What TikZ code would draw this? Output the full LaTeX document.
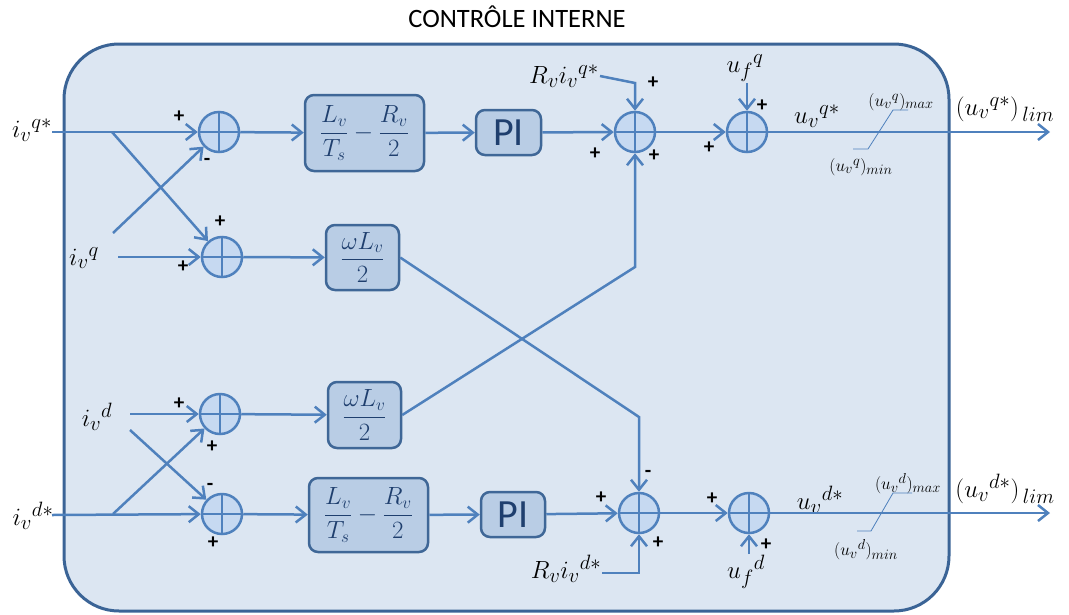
\documentclass[tikz,border=0pt]{standalone}
\usepackage{fontspec}
\setmainfont{Carlito}
\usetikzlibrary{arrows.meta}

\definecolor{panelfill}{HTML}{DCE6F2}
\definecolor{paneldraw}{HTML}{3B6496}
\definecolor{flow}{HTML}{4F81BD}
\definecolor{blockfill}{HTML}{B9CDE5}
\definecolor{blockdraw}{HTML}{3F6797}
\definecolor{blocktext}{HTML}{1F3F6E}
\definecolor{sumfill}{HTML}{C6D9F1}

\begin{document}
\begin{tikzpicture}[x=1pt,y=-1pt,
  panelbox/.style={draw=paneldraw, fill=panelfill, line width=3pt, rounded corners=55pt, inner sep=0},
  flowline/.style={draw=flow, line width=2.5pt, -{Straight Barb[length=10pt,width=16pt]}},
  limline/.style={draw=flow, line width=0.8pt},
  blockbox/.style={draw=blockdraw, fill=blockfill, line width=2.5pt, rounded corners=9pt,
    text=blocktext, inner sep=0, font=\fontsize{23}{27}\selectfont},
  gainbox/.style={blockbox, font=\fontsize{25}{29}\selectfont},
  pibox/.style={blockbox, font=\fontsize{40}{44}\selectfont},
  sumnode/.style={circle, draw=flow, fill=sumfill, line width=2.5pt, minimum size=40pt, inner sep=0,
    path picture={\draw[flow, line width=2.5pt]
      (path picture bounding box.north) -- (path picture bounding box.south)
      (path picture bounding box.west) -- (path picture bounding box.east);}},
  sig/.style={inner sep=0, font=\fontsize{21}{22}\selectfont\bfseries},
  lab/.style={inner sep=1pt, font=\fontsize{30}{34}\selectfont},
  limlab/.style={inner sep=0, font=\fontsize{19}{22}\selectfont},
]
\useasboundingbox (0,0) rectangle (1069,614);

% frame and title
\node[panelbox, minimum width=885pt, minimum height=567pt] (panel) at (506.5,327.5) {};
\node[inner sep=0, font=\fontsize{26.5}{30}\selectfont] (title) at (517,17) {CONTRÔLE INTERNE};

% ---- q axis ----
\node[sumnode] (sq1) at (219,132) {};
\node[sumnode] (sq2) at (222,257) {};
\node[blockbox, minimum width=119pt, minimum height=76pt] (bq) at (364.5,133)
  {$\displaystyle\frac{L_v}{T_s}-\frac{R_v}{2}$};
\node[pibox, minimum width=65pt, minimum height=45pt] (piq) at (508.5,132.5) {PI};
\node[gainbox, minimum width=73pt, minimum height=65pt] (wq) at (362.5,257.5)
  {$\displaystyle\frac{\omega L_v}{2}$};
\node[sumnode] (sq3) at (635,132) {};
\node[sumnode] (sq4) at (747,132) {};

% ---- d axis ----
\node[sumnode] (sd1) at (220,414) {};
\node[sumnode] (sd2) at (222,514) {};
\node[gainbox, minimum width=73pt, minimum height=66pt] (wd) at (364.5,415)
  {$\displaystyle\frac{\omega L_v}{2}$};
\node[blockbox, minimum width=119pt, minimum height=74pt] (bd) at (368.5,515)
  {$\displaystyle\frac{L_v}{T_s}-\frac{R_v}{2}$};
\node[pibox, minimum width=64pt, minimum height=45pt] (pid) at (513,514.5) {PI};
\node[sumnode] (sd3) at (639,513) {};
\node[sumnode] (sd4) at (749,513) {};

% ---- signal labels ----
\node[lab] (iqs) at (32,130) {$i_v{}^{q*}$};
\node[lab] (iq)  at (84,258) {$i_v{}^{q}$};
\node[lab] (id)  at (97,417) {$i_v{}^{d}$};
\node[lab] (ids) at (33,516) {$i_v{}^{d*}$};
\node[lab] (rq)  at (564,76) {$R_v i_v{}^{q*}$};
\node[lab] (rd)  at (566,569) {$R_v i_v{}^{d*}$};
\node[lab] (ufq) at (745,68) {$u_f{}^{q}$};
\node[lab] (ufd) at (746,572) {$u_f{}^{d}$};
\node[lab] (uvq) at (817,116) {$u_v{}^{q*}$};
\node[lab] (uvd) at (820,500) {$u_v{}^{d*}$};
\node[lab] (limq) at (1005,109) {$(u_v{}^{q*})_{\,lim}$};
\node[lab] (limd) at (1005,489) {$(u_v{}^{d*})_{\,lim}$};
\node[limlab] (maxq) at (901,102) {$(u_v{}^{q})_{max}$};
\node[limlab] (minq) at (861,167) {$(u_v{}^{q})_{min}$};
\node[limlab] (maxd) at (908,484) {$(u_v{}^{d})_{max}$};
\node[limlab] (mind) at (866,550) {$(u_v{}^{d})_{min}$};

% ---- branch and corner points ----
\coordinate (aq) at (52,132);
\coordinate (bq1) at (112,132);
\coordinate (bq2) at (113,233);
\coordinate (cq) at (118,257);
\coordinate (ad) at (52,515);
\coordinate (bd1) at (113,514);
\coordinate (bd2) at (130,430);
\coordinate (cd) at (130,414);
\coordinate (kq) at (635,83);
\coordinate (kd) at (639,573);
\coordinate (xq) at (635,267);
\coordinate (xd) at (639,417);
\coordinate (oq) at (1050,132);
\coordinate (od) at (1050,513);

% ---- q connectors ----
\draw[flowline] (aq) -- (sq1);
\draw[flowline] (bq1) -- (sq2);
\draw[flowline] (bq2) -- (sq1);
\draw[flowline] (cq) -- (sq2);
\draw[flowline] (sq1) -- (bq);
\draw[flowline] (bq) -- (piq);
\draw[flowline] (piq) -- (sq3);
\draw[flowline] (sq2) -- (wq);
\draw[flowline] (sq3) -- (sq4);
\draw[flowline] (rq.east) -- (kq) -- (sq3);
\draw[flowline] (sq4 |- ufq.south) -- (sq4);
\draw[flowline] (sq4) -- (oq);

% ---- d connectors ----
\draw[flowline] (ad) -- (sd2);
\draw[flowline] (bd1) -- (sd1);
\draw[flowline] (bd2) -- (sd2);
\draw[flowline] (cd) -- (sd1);
\draw[flowline] (sd1) -- (wd);
\draw[flowline] (sd2) -- (bd);
\draw[flowline] (bd) -- (pid);
\draw[flowline] (pid) -- (sd3);
\draw[flowline] (sd3) -- (sd4);
\draw[flowline] (rd.east |- kd) -- (kd) -- (sd3);
\draw[flowline] (sd4 |- ufd.north) -- (sd4);
\draw[flowline] (sd4) -- (od);

% ---- cross coupling ----
\draw[flowline] (wq.east) -- (xd) -- (sd3);
\draw[flowline] (wd.east) -- (xq) -- (sq3);

% ---- saturation marks ----
\draw[limline] (853,149) -- (868,149) -- (893,110) -- (908,110);
\draw[limline] (857,531) -- (871,531) -- (893,493) -- (912,493);

% ---- signs ----
\node[sig] at (179,117) {+};
\node[sig] at (207,162) {-};
\node[sig] at (220,222) {+};
\node[sig] at (183,267) {+};
\node[sig] at (653,83) {+};
\node[sig] at (595,154) {+};
\node[sig] at (654,156) {+};
\node[sig] at (709,148) {+};
\node[sig] at (762,106) {+};
\node[sig] at (179,404) {+};
\node[sig] at (212,447) {+};
\node[sig] at (210,487) {-};
\node[sig] at (213,543) {+};
\node[sig] at (648,474) {-};
\node[sig] at (601,498) {+};
\node[sig] at (658,543) {+};
\node[sig] at (712,499) {+};
\node[sig] at (766,545) {+};
\end{tikzpicture}
\end{document}
